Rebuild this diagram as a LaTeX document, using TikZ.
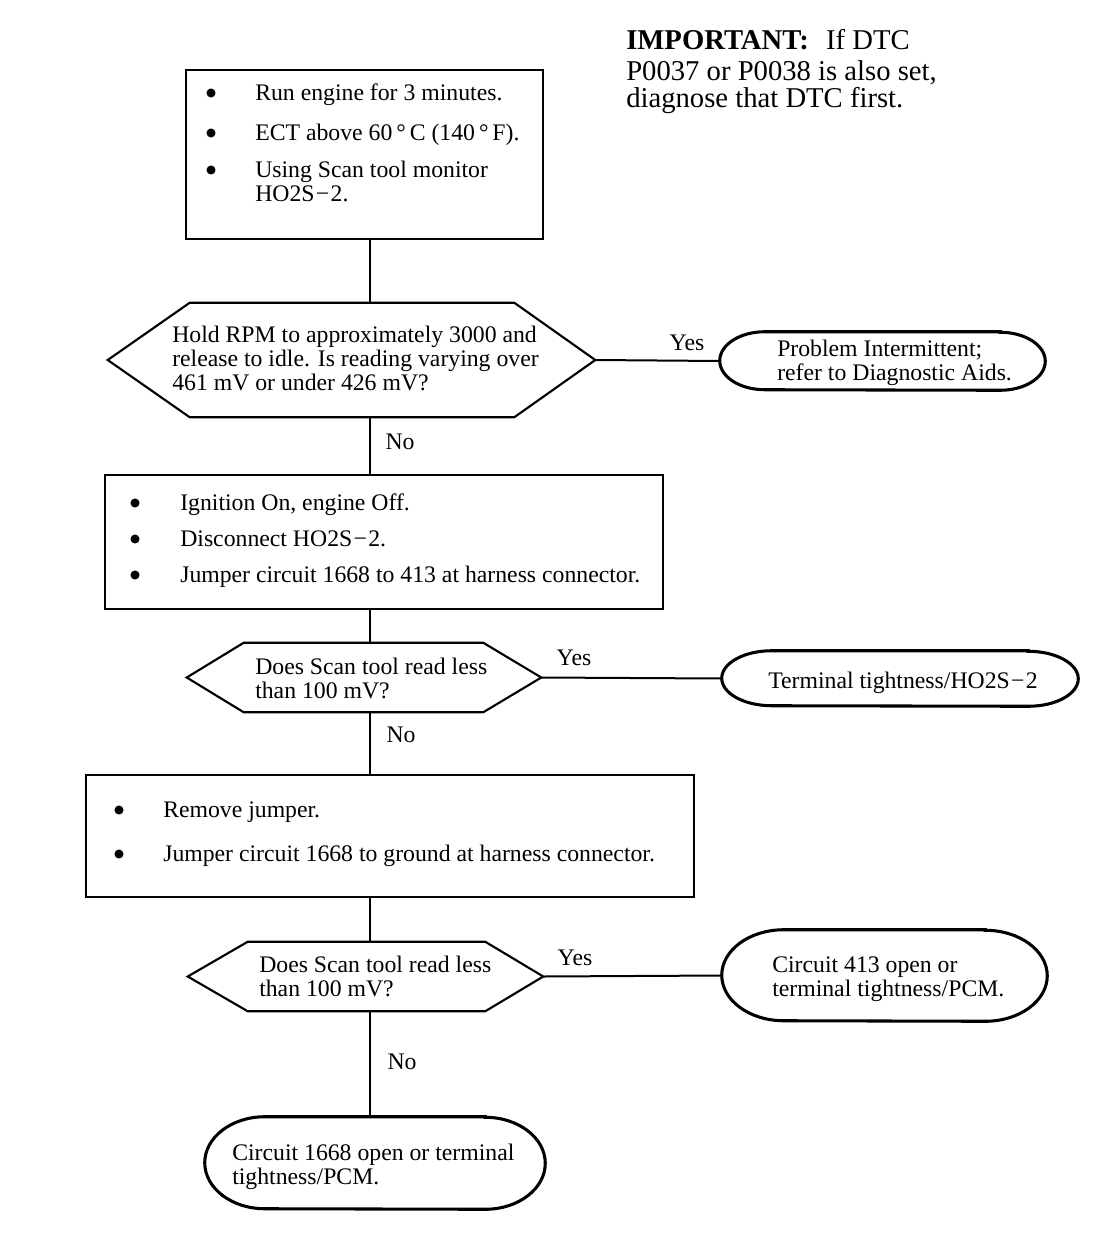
\documentclass[tikz,border=0pt]{standalone}
\usepackage{fontspec}
\setmainfont{Liberation Serif}
\usetikzlibrary{calc}
\begin{document}
\begin{tikzpicture}[x=0.75pt,y=-0.75pt,
  box/.style={draw, line width=1.5pt, rectangle, inner sep=0pt},
  area/.style={rectangle, inner sep=0pt},
  hexline/.style={draw, line width=1.6pt, line join=miter},
  ovalline/.style={draw, line width=2.3pt},
  conn/.style={line width=1.5pt},
  txt/.style={anchor=base west, inner sep=0pt, align=left, font=\fontsize{17.8pt}{18pt}\selectfont},
  lbl/.style={inner sep=0pt, font=\fontsize{17.8pt}{18pt}\selectfont},
  dot/.style={circle, fill=black, inner sep=0pt, minimum size=6.8pt}
]
\useasboundingbox (0,0) rectangle (1120,1238);
\fill[white] (0,0) rectangle (1120,1238);
\coordinate (sp) at (370,0);

% IMPORTANT note
\node[anchor=base west, inner sep=0pt, font=\fontsize{21.5pt}{22pt}\selectfont] (imp1) at (626,50) {\textbf{IMPORTANT:}\hspace{0.6em}If DTC};
\node[anchor=base west, inner sep=0pt, font=\fontsize{21.5pt}{22pt}\selectfont] (imp2) at (626,80) {P0037 or P0038 is also set,};
\node[anchor=base west, inner sep=0pt, font=\fontsize{21.5pt}{22pt}\selectfont] (imp3) at (626,108) {diagnose that DTC first.};

% Box 1
\node[box, minimum width=267.75pt, minimum height=126.75pt] (b1) at (364.5,154.5) {};
\node[dot] (b1d1) at (211,93) {};
\node[dot] (b1d2) at (211,133) {};
\node[dot] (b1d3) at (211,170) {};
\node[txt] (b1t1) at (255,100) {Run engine for 3 minutes.};
\node[txt] (b1t2) at (255,140) {ECT above 60\,°\,C (140\,°\,F).};
\node[txt] (b1t3) at (255,201) {Using Scan tool monitor\\HO2S{\kern1pt}−{\kern1pt}2.};

% Hexagon 1
\node[area, minimum width=365.25pt, minimum height=85.5pt] (h1) at (351.5,360) {};
\draw[hexline] (h1.west) -- ($(h1.north west)+(82,0)$) -- ($(h1.north east)+(-81,0)$) -- (h1.east)
  -- ($(h1.south east)+(-81,0)$) -- ($(h1.south west)+(82,0)$) -- cycle;
\node[txt] (h1t) at (172,390) {Hold RPM to approximately 3000 and\\release to idle. Is reading varying over\\461 mV or under 426 mV?};

% Oval 1
\node[area, minimum width=243.75pt, minimum height=43.5pt] (e1) at (882.5,361) {};
\draw[ovalline] ($(e1.north east)+(-45,0)$) -- ($(e1.north west)+(45,0)$)
  arc[start angle=90, end angle=270, x radius=33.75pt, y radius=21.75pt]
  -- ($(e1.south east)+(-45,0)$)
  arc[start angle=-90, end angle=90, x radius=33.75pt, y radius=21.75pt] -- cycle;
\node[txt] (e1t) at (777,380) {Problem Intermittent;\\refer to Diagnostic Aids.};

% Box 2
\node[box, minimum width=418.5pt, minimum height=100.5pt] (b2) at (384,542) {};
\node[dot] (b2d1) at (135,503) {};
\node[dot] (b2d2) at (135,539) {};
\node[dot] (b2d3) at (135,575) {};
\node[txt] (b2t1) at (180,510) {Ignition On, engine Off.};
\node[txt] (b2t2) at (180,546) {Disconnect HO2S{\kern1pt}−{\kern1pt}2.};
\node[txt] (b2t3) at (180,582) {Jumper circuit 1668 to 413 at harness connector.};

% Hexagon 2
\node[area, minimum width=265.5pt, minimum height=51.75pt] (h2) at (364,677.5) {};
\draw[hexline] (h2.west) -- ($(h2.north west)+(57,0)$) -- ($(h2.north east)+(-58,0)$) -- (h2.east)
  -- ($(h2.south east)+(-58,0)$) -- ($(h2.south west)+(57,0)$) -- cycle;
\node[txt] (h2t) at (255,698) {Does Scan tool read less\\than 100 mV?};

% Oval 2
\node[area, minimum width=267pt, minimum height=41.25pt] (e2) at (900,678.5) {};
\draw[ovalline] ($(e2.north east)+(-50,0)$) -- ($(e2.north west)+(50,0)$)
  arc[start angle=90, end angle=270, x radius=37.5pt, y radius=20.625pt]
  -- ($(e2.south east)+(-50,0)$)
  arc[start angle=-90, end angle=90, x radius=37.5pt, y radius=20.625pt] -- cycle;
\node[txt] (e2t) at (768,688) {Terminal tightness/HO2S{\kern1pt}−{\kern1pt}2};

% Box 3
\node[box, minimum width=456pt, minimum height=91.5pt] (b3) at (390,836) {};
\node[dot] (b3d1) at (119,810) {};
\node[dot] (b3d2) at (119,854) {};
\node[txt] (b3t1) at (163,817) {Remove jumper.};
\node[txt] (b3t2) at (163,861) {Jumper circuit 1668 to ground at harness connector.};

% Hexagon 3
\node[area, minimum width=266.25pt, minimum height=51.75pt] (h3) at (365.5,976.5) {};
\draw[hexline] (h3.west) -- ($(h3.north west)+(60,0)$) -- ($(h3.north east)+(-58,0)$) -- (h3.east)
  -- ($(h3.south east)+(-58,0)$) -- ($(h3.south west)+(60,0)$) -- cycle;
\node[txt] (h3t) at (259,996) {Does Scan tool read less\\than 100 mV?};

% Oval 3
\node[area, minimum width=243.75pt, minimum height=68.25pt] (e3) at (884.5,975.5) {};
\draw[ovalline] ($(e3.north east)+(-62,0)$) -- ($(e3.north west)+(62,0)$)
  arc[start angle=90, end angle=270, x radius=46.5pt, y radius=34.125pt]
  -- ($(e3.south east)+(-62,0)$)
  arc[start angle=-90, end angle=90, x radius=46.5pt, y radius=34.125pt] -- cycle;
\node[txt] (e3t) at (772,996) {Circuit 413 open or\\terminal tightness/PCM.};

% Oval 4
\node[area, minimum width=255pt, minimum height=69pt] (e4) at (375,1163) {};
\draw[ovalline] ($(e4.north east)+(-60,0)$) -- ($(e4.north west)+(60,0)$)
  arc[start angle=90, end angle=270, x radius=45pt, y radius=34.5pt]
  -- ($(e4.south east)+(-60,0)$)
  arc[start angle=-90, end angle=90, x radius=45pt, y radius=34.5pt] -- cycle;
\node[txt] (e4t) at (232,1184) {Circuit 1668 open or terminal\\tightness/PCM.};

% Connectors
\draw[conn] (b1.south -| sp) -- (h1.north -| sp);
\draw[conn] (h1.south -| sp) -- (b2.north -| sp);
\draw[conn] (b2.south -| sp) -- (h2.north -| sp);
\draw[conn] (h2.south -| sp) -- (b3.north -| sp);
\draw[conn] (b3.south -| sp) -- (h3.north -| sp);
\draw[conn] (h3.south -| sp) -- (e4.north -| sp);
\draw[conn] (h1.east) -- (e1.west);
\draw[conn] (h2.east) -- (e2.west);
\draw[conn] (h3.east) -- (e3.west);

% Labels
\node[lbl] (y1) at (687,343) {Yes};
\node[lbl] (y2) at (574,658) {Yes};
\node[lbl] (y3) at (575,958) {Yes};
\node[lbl] (n1) at (400,442) {No};
\node[lbl] (n2) at (401,735) {No};
\node[lbl] (n3) at (402,1062) {No};
\end{tikzpicture}
\end{document}
